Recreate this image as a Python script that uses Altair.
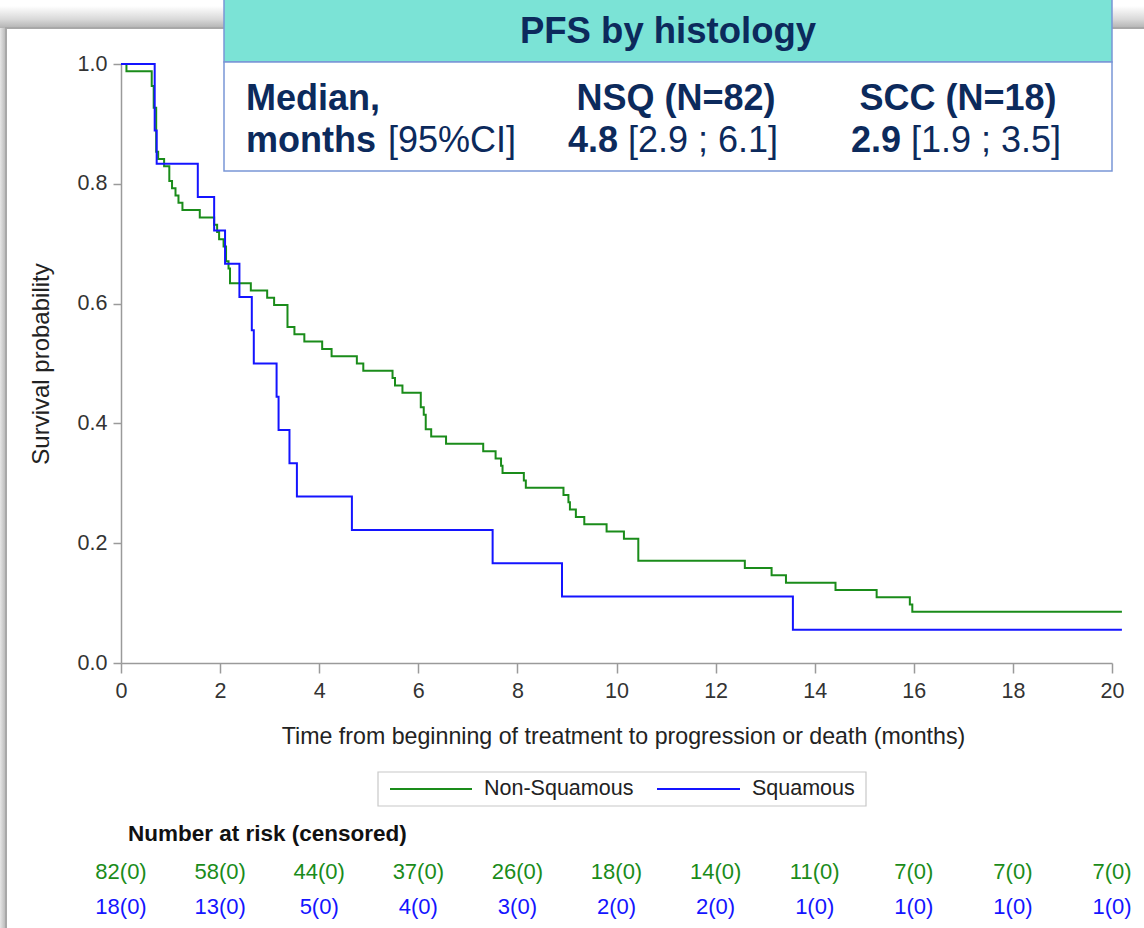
import altair as alt
import pandas as pd

# ---------------- data ----------------
GROUPS = ["Non-Squamous", "Squamous"]
COLORS = ["#1a8c1a", "#1414ff"]
N_NSQ = 82
N_SQ = 18
END_TIME = 20.2

# Non-Squamous: event times (months) and number still event-free after each step
nsq_times = [0.11, 0.62, 0.66, 0.71, 0.75, 0.87, 0.975, 1.03, 1.10, 1.16, 1.24, 1.59,
             1.88, 1.94, 1.98, 2.07, 2.12, 2.17, 2.20, 2.62, 2.95, 3.09, 3.36, 3.50,
             3.70, 4.06, 4.25, 4.76, 4.89, 5.48, 5.53, 5.68, 6.05, 6.11, 6.15, 6.26,
             6.56, 7.31, 7.56, 7.67, 7.70, 8.13, 8.17, 8.93, 9.03, 9.06, 9.18, 9.35,
             9.80, 10.15, 10.44, 12.59, 13.13, 13.42, 14.42, 15.25, 15.92, 15.97]
nsq_left = [81, 79, 76, 70, 69, 68, 66, 65, 64, 63, 62, 61,
            60, 59, 58, 57, 55, 54, 52, 51, 50, 49, 46, 45,
            44, 43, 42, 41, 40, 39, 38, 37, 35, 34, 32, 31,
            30, 29, 28, 27, 26, 25, 24, 23, 22, 21, 20, 19,
            18, 17, 14, 13, 12, 11, 10, 9, 8, 7]

# Squamous
sq_times = [0.68, 0.72, 1.55, 1.88, 2.10, 2.39, 2.64, 2.68, 3.14, 3.18, 3.40, 3.55,
            4.66, 7.50, 8.90, 13.56]
sq_left = [16, 15, 14, 13, 12, 11, 10, 9, 8, 7, 6, 5, 4, 3, 2, 1]

# Number at risk table
risk_times = [0, 2, 4, 6, 8, 10, 12, 14, 16, 18, 20]
nsq_risk = ["82(0)", "58(0)", "44(0)", "37(0)", "26(0)", "18(0)", "14(0)", "11(0)", "7(0)", "7(0)", "7(0)"]
sq_risk = ["18(0)", "13(0)", "5(0)", "4(0)", "3(0)", "2(0)", "2(0)", "1(0)", "1(0)", "1(0)", "1(0)"]

x_ticks = [0, 2, 4, 6, 8, 10, 12, 14, 16, 18, 20]
y_ticks = [0.0, 0.2, 0.4, 0.6, 0.8, 1.0]

X_TITLE = "Time from beginning of treatment to progression or death (months)"
Y_TITLE = "Survival probability"


def curve(name, n, times, left):
    rows = [{"group": name, "t": 0.0, "s": 1.0, "o": 0}]
    for i, (t, k) in enumerate(zip(times, left)):
        rows.append({"group": name, "t": t, "s": k / n, "o": i + 1})
    rows.append({"group": name, "t": END_TIME, "s": left[-1] / n, "o": len(times) + 1})
    return rows


curves = pd.DataFrame(curve(GROUPS[0], N_NSQ, nsq_times, nsq_left) +
                      curve(GROUPS[1], N_SQ, sq_times, sq_left))

risk_nsq_df = pd.DataFrame({"t": risk_times, "label": nsq_risk})
risk_sq_df = pd.DataFrame({"t": risk_times, "label": sq_risk})

FONT = "Liberation Sans"
NAVY = "#0c2a5c"

x_scale = alt.Scale(domain=[0, 20], nice=False, zero=False)
y_scale = alt.Scale(domain=[0, 1], nice=False)

one = pd.DataFrame({"k": [0]})

# ---------------- frame with shadow ----------------
top_shadow = alt.Chart(one).mark_rect(
    fill=alt.Gradient(gradient="linear", x1=0, y1=0, x2=0, y2=1,
                      stops=[alt.GradientStop(color="#ffffff", offset=0),
                             alt.GradientStop(color="#d9d9d9", offset=0.6),
                             alt.GradientStop(color="#b3b3b3", offset=1)])
).encode(x=alt.value(-121), x2=alt.value(1023), y=alt.value(-58), y2=alt.value(-36))

left_shadow = alt.Chart(one).mark_rect(
    fill=alt.Gradient(gradient="linear", x1=0, y1=0, x2=1, y2=0,
                      stops=[alt.GradientStop(color="#e6e6e6", offset=0),
                             alt.GradientStop(color="#bdbdbd", offset=1)])
).encode(x=alt.value(-121), x2=alt.value(-116), y=alt.value(-36), y2=alt.value(880))

frame = alt.Chart(one).mark_rect(fillOpacity=0, stroke="#a8a8a8", strokeWidth=2).encode(
    x=alt.value(-115), x2=alt.value(1045), y=alt.value(-36), y2=alt.value(900))

# ---------------- KM curves ----------------
lines = alt.Chart(curves).mark_line(interpolate="step-after", strokeWidth=2).encode(
    x=alt.X("t:Q", scale=x_scale, title=X_TITLE,
            axis=alt.Axis(values=x_ticks, format="d", labelFlush=False, titleX=502)),
    y=alt.Y("s:Q", scale=y_scale, title=Y_TITLE,
            axis=alt.Axis(values=y_ticks, format=".1f", labelFlush=False)),
    color=alt.Color("group:N", scale=alt.Scale(domain=GROUPS, range=COLORS), legend=None),
    order="o:Q",
)

# ---------------- legend (boxed, horizontal) ----------------
legend_box = alt.Chart(one).mark_rect(fill="#ffffff", stroke="#c8c8c8", strokeWidth=1.2).encode(
    x=alt.value(257), x2=alt.value(745), y=alt.value(708), y2=alt.value(742))
legend_df = pd.DataFrame({"group": GROUPS, "x0": [269, 536], "x1": [351, 619], "xt": [363, 631]})
legend_lines = alt.Chart(legend_df).mark_rule(strokeWidth=2).encode(
    x=alt.X("x0:Q", scale=None), x2="x1:Q", y=alt.value(725),
    color=alt.Color("group:N", scale=alt.Scale(domain=GROUPS, range=COLORS), legend=None))
legend_text = alt.Chart(legend_df).mark_text(font=FONT, fontSize=21.5, align="left",
                                             baseline="middle", color="#222222").encode(
    x=alt.X("xt:Q", scale=None), y=alt.value(725), text="group:N")

# ---------------- risk table ----------------
risk_title = alt.Chart(one).mark_text(text="Number at risk (censored)", font=FONT, fontSize=22.5,
                                      fontWeight="bold", align="left", baseline="middle",
                                      color="#111111").encode(
    x=alt.value(7), y=alt.value(770))

risk_nsq = alt.Chart(risk_nsq_df).mark_text(font=FONT, fontSize=22, baseline="middle",
                                            align="center", color=COLORS[0]).encode(
    x=alt.X("t:Q", scale=x_scale, title=X_TITLE), y=alt.value(808), text="label:N")

risk_sq = alt.Chart(risk_sq_df).mark_text(font=FONT, fontSize=22, baseline="middle",
                                          align="center", color=COLORS[1]).encode(
    x=alt.X("t:Q", scale=x_scale, title=X_TITLE), y=alt.value(843), text="label:N")

# ---------------- header box ----------------
teal_box = alt.Chart(one).mark_rect(fill="#7be3d6", stroke="#7a96d6", strokeWidth=1.5).encode(
    x=alt.value(103), x2=alt.value(991), y=alt.value(-70), y2=alt.value(-2))
white_box = alt.Chart(one).mark_rect(fill="#ffffff", stroke="#7a96d6", strokeWidth=1.5).encode(
    x=alt.value(103), x2=alt.value(991), y=alt.value(-2), y2=alt.value(107))


def htext(txt, x, y, bold=True, align="left", size=36):
    return alt.Chart(one).mark_text(text=txt, font=FONT, fontSize=size,
                                    fontWeight="bold" if bold else "normal",
                                    align=align, baseline="alphabetic", color=NAVY).encode(
        x=alt.value(x), y=alt.value(y))


header = [
    htext("PFS by histology", 547, -21, size=36.5, align="center"),
    htext("Median,", 125, 46),
    htext("NSQ (N=82)", 555, 46, align="center"),
    htext("SCC (N=18)", 837, 46, align="center"),
    htext("months", 125, 88),
    htext("[95%CI]", 267, 88, bold=False),
    htext("4.8", 447, 88),
    htext("[2.9 ; 6.1]", 507, 88, bold=False),
    htext("2.9", 730, 88),
    htext("[1.9 ; 3.5]", 790, 88, bold=False),
]

chart = alt.layer(
    top_shadow, left_shadow, frame, lines, legend_box, legend_lines, legend_text,
    risk_title, risk_nsq, risk_sq, teal_box, white_box, *header
).properties(
    width=991, height=599,
    autosize=alt.AutoSizeParams(type="none"),
    padding={"left": 121, "top": 64, "right": 32, "bottom": 265},
    background="#ffffff",
).configure_view(stroke=None).configure_axis(
    grid=False, domainColor="#9a9a9a", domainWidth=1.5, tickColor="#9a9a9a", tickWidth=1.5,
    labelFont=FONT, labelFontSize=21.5, labelColor="#333333",
    titleFont=FONT, titleColor="#222222", titleFontWeight="normal",
).configure_axisX(tickSize=10, labelPadding=7, titlePadding=24, titleFontSize=23.2).configure_axisY(
    tickSize=8, labelPadding=6, titlePadding=24, titleFontSize=24)

chart.save("out.html", embed_options={"renderer": "svg", "actions": False})
